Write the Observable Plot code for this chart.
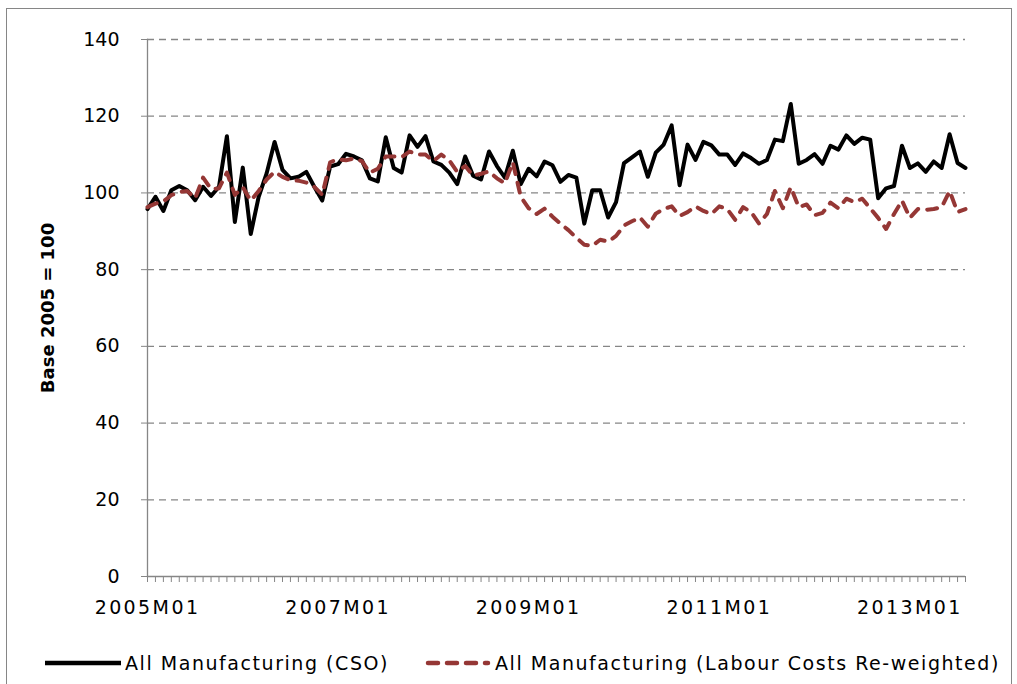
<!DOCTYPE html>
<html><head><meta charset="utf-8">
<script src="https://cdn.jsdelivr.net/npm/d3@7"></script>
<script src="https://cdn.jsdelivr.net/npm/@observablehq/plot@0.6"></script>
<style>
body{margin:0;background:#fff;font-family:"DejaVu Sans",sans-serif;}
#frame{position:absolute;left:6px;top:8px;width:1006px;height:700px;border:1px solid #868686;box-sizing:border-box;}
#chart{position:absolute;left:0;top:0;}
#chart g[aria-label="y-axis label"] text{font-weight:bold;font-size:18px;}
#chart g[aria-label="x-axis tick label"] text{letter-spacing:2.4px;}
#legend{position:absolute;left:0;top:648px;width:1017px;height:30px;font-size:19px;color:#000;letter-spacing:1.55px;}
#legend .item{position:absolute;top:0;height:30px;display:flex;align-items:center;white-space:nowrap;}
#legend svg{display:block;margin-right:4px;}
</style></head><body>
<div id="frame"></div>
<div id="chart"></div>
<div id="legend"></div>
<script>
const startYear = 2005;
const seriesNames = ["All Manufacturing (CSO)", "All Manufacturing (Labour Costs Re-weighted)"];
const seriesColors = ["#000000", "#953735"];
const cso = [95.8,99,95.3,100.7,101.8,100.7,98.1,101.6,99.2,101.6,114.8,92.4,106.6,89.3,99,105.1,113.3,106,103.8,104.2,105.5,101.6,98,106.9,
107.5,110.2,109.5,108.5,103.8,103,114.5,106.5,105.3,115,112,114.8,108.2,107.3,105.3,102.3,109.5,104.5,103.5,110.8,107,104,111,102.3,
106.3,104.3,108.2,107.2,102.9,104.7,104,92,100.7,100.7,93.6,97.6,107.8,109.3,110.8,104.2,110.5,112.6,117.6,102,112.6,108.6,113.3,112.4,
110,110,107.3,110.3,109.1,107.6,108.6,113.9,113.5,123.2,107.6,108.6,110.1,107.6,112.3,111.3,115,112.8,114.4,113.9,98.6,101.2,101.8,112.3,
106.5,107.7,105.5,108.2,106.5,115.3,107.8,106.5];
const reweighted = [96.3,97.2,97.8,99.4,100.2,100.5,98.6,104,101,101.2,105.3,99.5,101.5,98,100.5,103.5,105.5,104.2,103.3,103.2,102.7,101.6,99.5,108,
108.8,108.5,109,108.3,105.3,106.3,109.5,109.5,109.3,110.8,110,110,108.3,110,108.5,105.5,107,104.5,105,105.6,103.8,102.5,108,99,
96,94.5,95.9,93.8,92,90.3,88.3,86.5,86.2,87.8,87.3,88.8,91.5,92.6,93.6,91.2,94.6,95.8,96.5,94,95,96.5,95.3,94.5,
96.5,95.8,93,96.3,95,92,94.5,100.5,96,101.5,96.3,97,94.2,94.8,97.5,96,98.5,97.6,98.5,96,93.5,90.6,94.5,98,
93.5,95.8,95.6,95.8,96.3,100.5,95,95.8];
const months = cso.map((_, i) => `${startYear + Math.floor(i / 12)}M${String(i % 12 + 1).padStart(2, "0")}`);
const xLabels = ["2005M01", "2007M01", "2009M01", "2011M01", "2013M01"];
const yTicks = [0, 20, 40, 60, 80, 100, 120, 140];

const axisGray = "#868686";
const chart = Plot.plot({
  width: 1017, height: 640,
  marginLeft: 147, marginRight: 52, marginTop: 39, marginBottom: 64,
  style: {fontFamily: "DejaVu Sans", fontSize: "19px", color: "#000", background: "transparent", overflow: "visible"},
  x: {type: "point", domain: months, padding: 0},
  y: {domain: [0, 140]},
  marks: [
    Plot.gridY(yTicks.filter(d => d > 0), {stroke: axisGray, strokeOpacity: 1, strokeWidth: 1.3, strokeDasharray: "7,5"}),
    Plot.axisY(yTicks, {tickSize: 6, tickPadding: 22, stroke: axisGray, fill: "#000", label: "Base 2005 = 100", labelAnchor: "center", labelOffset: 106, labelArrow: "none"}),
    Plot.axisX(months, {tickSize: 6, stroke: axisGray, tickFormat: () => "", label: null}),
    Plot.axisX(xLabels, {tickSize: 0, tickPadding: 24, fill: "#000", label: null}),
    Plot.ruleY([0], {stroke: axisGray, strokeWidth: 1.3}),
    Plot.frame({anchor: "left", stroke: axisGray, strokeWidth: 1.3}),
    Plot.lineY(cso, {x: months, y: d => d, stroke: seriesColors[0], strokeWidth: 4, strokeLinejoin: "round"}),
    Plot.lineY(reweighted, {x: months, y: d => d, stroke: seriesColors[1], strokeWidth: 4, strokeDasharray: "10,9", strokeLinecap: "round", strokeLinejoin: "round"})
  ]
});
document.getElementById("chart").appendChild(chart);

const legend = document.getElementById("legend");
const legendX = [45, 425];
seriesNames.forEach((name, k) => {
  const item = document.createElement("div");
  item.className = "item";
  item.style.left = legendX[k] + "px";
  const dash = k === 1 ? 'stroke-dasharray="10,9" stroke-linecap="round"' : '';
  item.innerHTML = `<svg width="${k === 1 ? 66 : 76}" height="10"><line x1="${k===1?3:0}" y1="5" x2="${k===1?63:76}" y2="5" stroke="${seriesColors[k]}" stroke-width="4.5" ${dash}/></svg><span>${name}</span>`;
  legend.appendChild(item);
});
</script>
</body></html>
